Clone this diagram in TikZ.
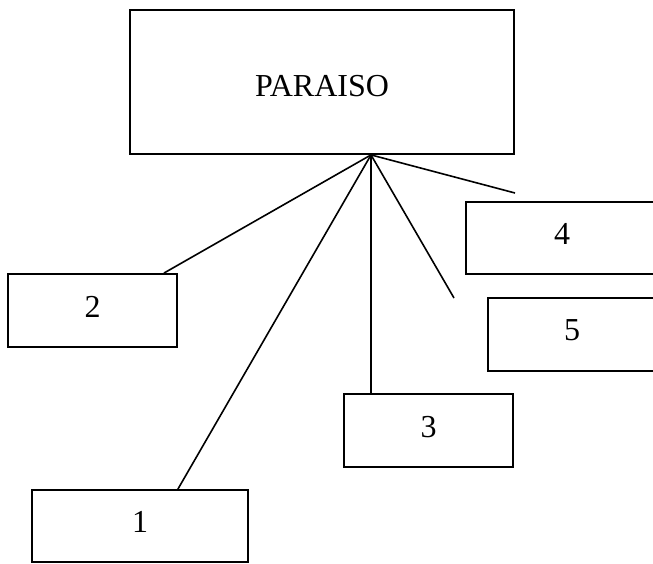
\documentclass[tikz,border=0pt]{standalone}
\usepackage{fontspec}
\setmainfont{Liberation Serif}
\usepackage{tikz}

\tikzset{
	box/.style={draw, line width=1.8pt, inner sep=0pt, text depth=8pt, font=\fontsize{32}{38}\selectfont},
	conn/.style={line width=1.6pt}
}

\begin{document}
\begin{tikzpicture}[x=1pt, y=-1pt]
			\useasboundingbox (0,0) rectangle (653,564);
			\node[box, minimum width=384pt, minimum height=144pt, text depth=0pt, text height=29pt] (paraiso) at (322,82) {PARAISO};
			\node[box, minimum width=192pt, minimum height=72pt] (n4) at (562,238) {4};
			\node[box, minimum width=168pt, minimum height=73pt] (n5) at (572,334.5) {5};
			\node[box, minimum width=169pt, minimum height=73pt] (n2) at (92.5,310.5) {2};
			\node[box, minimum width=169pt, minimum height=73pt] (n3) at (428.5,430.5) {3};
			\node[box, minimum width=216pt, minimum height=72pt] (n1) at (140,526) {1};
			\coordinate (hub) at ([xshift=49pt]paraiso.south);
			\coordinate (e4) at (515,193);
			\coordinate (e5) at (454,298);
			\draw[conn] (hub) -- ([xshift=-14pt]n2.north east);
			\draw[conn] (hub) -- ([xshift=-71pt]n1.north east);
			\draw[conn] (hub) -- (hub |- n3.north);
			\draw[conn] (hub) -- (e5);
			\draw[conn] (hub) -- (e4);
		\end{tikzpicture}
\end{document}
